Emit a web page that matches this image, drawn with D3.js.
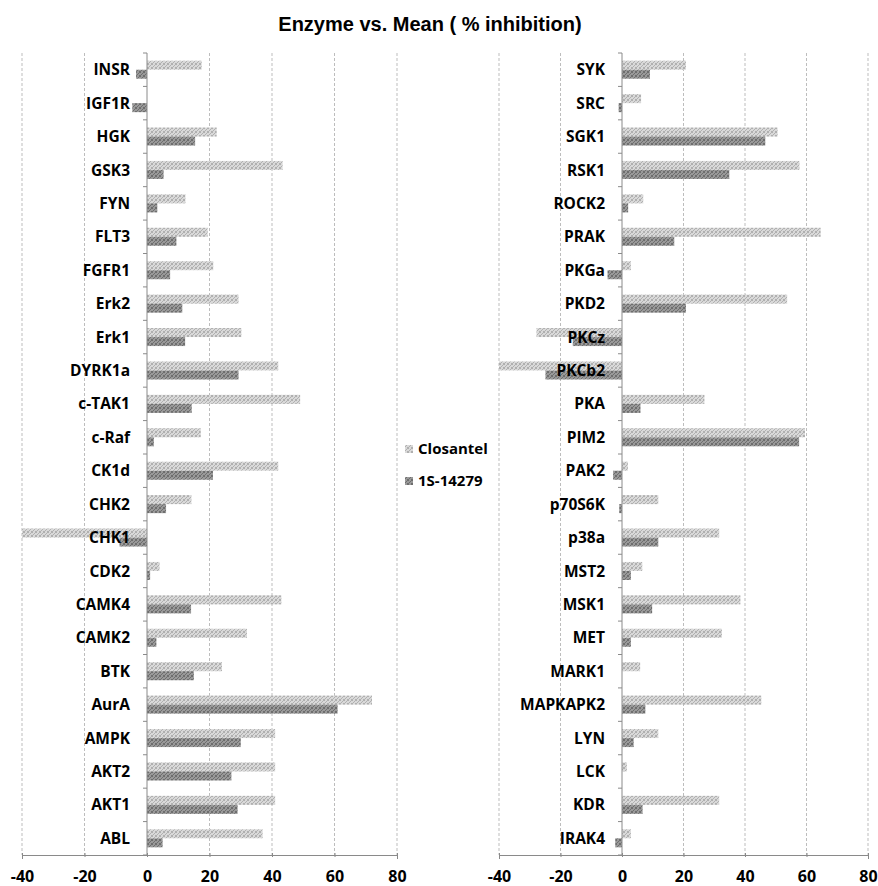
<!DOCTYPE html>
<html>
<head>
<meta charset="utf-8">
<script src="https://cdn.jsdelivr.net/npm/d3@7/dist/d3.min.js"></script>
<style>
  body { margin: 0; background: #fff; }
  text { font-family: "Open Sans", "DejaVu Sans", sans-serif; font-weight: bold; fill: #000; }
</style>
</head>
<body>
<svg id="chart" width="878" height="886"></svg>
<script>
// categories, top to bottom as shown
var leftEnzymes = ['INSR','IGF1R','HGK','GSK3','FYN','FLT3','FGFR1','Erk2','Erk1','DYRK1a','c-TAK1','c-Raf',
    'CK1d','CHK2','CHK1','CDK2','CAMK4','CAMK2','BTK','AurA','AMPK','AKT2','AKT1','ABL'];
var leftClosantel = [17.5,0,22.3,43.4,12.3,19.4,21.2,29.3,30.2,42,49,17.2,
    42,14.2,-40,4,43,32,24,72,41,41,41,37];
var left14279 = [-3.5,-4.7,15.4,5.3,3.3,9.4,7.4,11.3,12.2,29.3,14.3,2.2,
    21.1,6.1,-8.8,1,14.1,3,15,61,30,27,29,5];

var rightEnzymes = ['SYK','SRC','SGK1','RSK1','ROCK2','PRAK','PKGa','PKD2','PKCz','PKCb2','PKA','PIM2',
    'PAK2','p70S6K','p38a','MST2','MSK1','MET','MARK1','MAPKAPK2','LYN','LCK','KDR','IRAK4'];
var rightClosantel = [20.8,6.2,50.6,57.7,6.9,64.6,2.9,53.7,-27.8,-40,26.8,59.5,
    1.9,11.8,31.6,6.6,38.5,32.5,5.9,45.3,11.8,1.6,31.6,2.9];
var right14279 = [9.1,-1.1,46.6,34.9,2,17,-4.7,20.8,-16,-24.9,6,57.6,
    -2.9,-0.9,11.8,2.9,9.8,2.9,0,7.6,3.8,0,6.7,-2.2];

var seriesNames = ['Closantel', '1S-14279'];
var xTicks = [-40,-20,0,20,40,60,80];

var svg = d3.select('#chart');

// speckled fills like the print (fixed dot layout in a 4x4 tile)
var defs = svg.append('defs');
var dots = [[0,0],[2,1],[1,2],[3,3],[3,0],[0,3]];
function speckle(id, a, b){
    var p = defs.append('pattern').attr('id', id)
        .attr('width', 4).attr('height', 4).attr('patternUnits', 'userSpaceOnUse');
    p.append('rect').attr('width', 4).attr('height', 4).attr('fill', a);
    dots.forEach(function(d){
        p.append('rect').attr('x', d[0]).attr('y', d[1]).attr('width', 1).attr('height', 1).attr('fill', b);
    });
}
speckle('light', '#d9d9d9', '#b0b0b0');
speckle('dark', '#999999', '#6e6e6e');
var fills = ['url(#light)', 'url(#dark)'];

svg.append('text')
    .attr('x', 430).attr('y', 31)
    .attr('text-anchor', 'middle')
    .style('font-family', '"Liberation Sans", Arial, sans-serif')
    .style('font-size', '20px')
    .text('Enzyme vs. Mean ( % inhibition)');

var plotTop = 53, plotBottom = 855;

function panel(x0, x1, names, closantel, s14279){
    var x = d3.scaleLinear().domain([-40, 80]).range([x0, x1]).clamp(true);
    var y = d3.scaleBand().domain(names).range([plotTop, plotBottom]).paddingInner(0.46).paddingOuter(0.23);
    var yStep = (plotBottom - plotTop) / names.length;
    var g = svg.append('g');

    // dashed grid
    g.selectAll('.grid').data(xTicks.filter(function(d){ return d !== 0; }))
        .enter().append('line')
        .attr('x1', function(d){ return x(d); }).attr('x2', function(d){ return x(d); })
        .attr('y1', plotTop).attr('y2', plotBottom)
        .attr('stroke', '#bdbdbd').attr('stroke-dasharray', '3,2').attr('stroke-width', 1);

    // bars
    var rows = names.map(function(n, i){ return { name: n, vals: [closantel[i], s14279[i]] }; });
    var h = y.bandwidth() / 2;
    rows.forEach(function(r){
        r.vals.forEach(function(v, k){
            if (v === 0) return;
            g.append('rect')
                .attr('x', x(Math.min(0, v)))
                .attr('width', Math.abs(x(v) - x(0)))
                .attr('y', y(r.name) + k * h)
                .attr('height', h)
                .attr('fill', fills[k]);
        });
    });

    // vertical axis at zero with category ticks
    g.append('line')
        .attr('x1', x(0)).attr('x2', x(0)).attr('y1', plotTop).attr('y2', plotBottom)
        .attr('stroke', '#8a8a8a');
    d3.range(names.length + 1).forEach(function(i){
        g.append('line')
            .attr('x1', x(0) - 4).attr('x2', x(0))
            .attr('y1', plotTop + i * yStep).attr('y2', plotTop + i * yStep)
            .attr('stroke', '#8a8a8a');
    });

    // bottom axis
    var ax = g.append('g').attr('transform', 'translate(0,' + plotBottom + ')')
        .call(d3.axisBottom(x).tickValues(xTicks).tickSize(4).tickPadding(12)
            .tickFormat(function(d){ return String(d); }));
    ax.select('.domain').attr('stroke', '#8a8a8a');
    ax.selectAll('.tick line').attr('stroke', '#8a8a8a').attr('y1', -2).attr('y2', 2);
    ax.selectAll('text').style('font-size', '16px').style('font-family', '"Open Sans", sans-serif')
        .attr('fill', '#000');

    // category labels (drawn over bars)
    g.selectAll('.lab').data(names).enter().append('text')
        .attr('x', x(0) - 17)
        .attr('y', function(d){ return y(d) + y.bandwidth() / 2; })
        .attr('dy', '0.36em')
        .attr('text-anchor', 'end')
        .style('font-size', '15.5px')
        .text(function(d){ return d; });
}

panel(22, 397, leftEnzymes, leftClosantel, left14279);
panel(499, 868, rightEnzymes, rightClosantel, right14279);

// legend
var leg = svg.append('g');
seriesNames.forEach(function(s, i){
    leg.append('rect').attr('x', 405).attr('y', 445 + i * 32).attr('width', 8).attr('height', 8)
        .attr('fill', fills[i]);
    leg.append('text').attr('x', 418).attr('y', 449 + i * 32).attr('dy', '0.36em')
        .style('font-size', '15px').text(s);
});
</script>
</body>
</html>
